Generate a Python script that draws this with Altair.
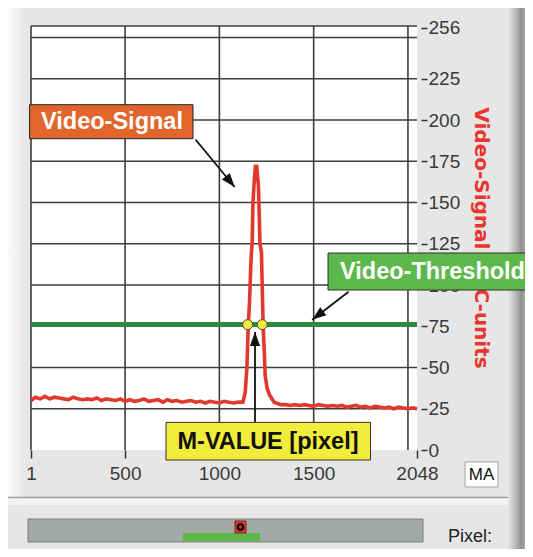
import altair as alt
import pandas as pd

# ---------------- data ----------------
left_x = [1, 25, 50, 75, 100, 125, 150, 175, 200, 225, 250, 275, 300, 325, 350, 375,
          400, 425, 450, 475, 500, 525, 550, 575, 600, 625, 650, 675, 700, 725, 750,
          775, 800, 825, 850, 875, 900, 925, 950, 975, 1000, 1025, 1050, 1075, 1100, 1125]
left_y = [30, 32, 31, 32.5, 31, 32, 31.5, 31, 30.5, 32, 31, 30.5, 31, 30.5, 31.5, 30,
          31, 30.5, 30, 31, 29.5, 30.5, 29.5, 30, 31, 29.5, 30, 30.5, 29, 30.5, 29.5,
          30, 29, 29.5, 30, 29, 29.5, 28.5, 29.5, 29, 28.5, 29.5, 29, 28.5, 29, 29]
peak_x = [1137, 1146, 1153, 1160, 1166, 1170, 1174, 1178, 1186, 1191, 1198, 1207,
          1212, 1215, 1223, 1227, 1232, 1238, 1243, 1254, 1268, 1290, 1325]
peak_y = [35, 50, 75, 90, 110, 120, 125, 150, 165, 172, 172, 160,
          140, 125, 120, 100, 75, 60, 45, 37, 33, 29, 27.5]
right_x = [1350, 1375, 1400, 1425, 1450, 1475, 1500, 1525, 1550, 1575, 1600, 1625,
           1650, 1675, 1700, 1725, 1750, 1775, 1800, 1825, 1850, 1875, 1900, 1925,
           1950, 1975, 2000, 2025, 2048]
right_y = [27.5, 27, 27.5, 27, 27.5, 27, 26.5, 27.5, 27, 26.5, 27, 26.5, 27, 26,
           26.5, 27, 26, 26.5, 25.5, 26.5, 26, 25.5, 26, 25, 26, 25.5, 25, 25.5, 25]

threshold_value = 76
threshold_x = [1, 2048]
crossing_x = [1150, 1227]

grid_x = [1, 500, 1000, 1500, 2000]
grid_y = [25, 50, 75, 100, 125, 150, 175, 200, 225, 250, 257]
x_ticks = [1, 500, 1000, 1500, 2048]
y_ticks = [0, 25, 50, 75, 100, 125, 150, 175, 200, 225, 256]

# ---------------- tables ----------------
sig_df = pd.DataFrame({"pixel": left_x + peak_x + right_x,
                       "adc": left_y + peak_y + right_y})
thr_df = pd.DataFrame({"pixel": threshold_x, "adc": [threshold_value] * len(threshold_x)})
cross_df = pd.DataFrame({"pixel": crossing_x, "adc": [threshold_value] * len(crossing_x)})
gx_df = pd.DataFrame({"pixel": grid_x})
gy_df = pd.DataFrame({"adc": grid_y})
one = pd.DataFrame({"k": [0]})

W, H = 386, 424
FONT = "Liberation Sans"
xs = alt.Scale(domain=[1, 2048], nice=False, zero=False)
ys = alt.Scale(domain=[0, 257], nice=False, zero=False)
x_axis = alt.Axis(
    values=x_ticks, orient="bottom", title=None, grid=False, domain=False,
    tickSize=8, tickColor="#333333", tickWidth=1.5, labelFont=FONT,
    labelFontSize=19, labelColor="#3a3a3a", labelPadding=6, format="d",
    labelFlush=False, labelOverlap=False)
y_axis = alt.Axis(
    values=y_ticks, orient="right", title=None, grid=False, domain=False,
    offset=4, tickSize=6, tickColor="#333333", tickWidth=1.5, labelFont=FONT,
    labelFontSize=19, labelColor="#3a3a3a", labelPadding=1, format="d",
    labelFlush=False, labelOverlap=False)
X = alt.X("pixel:Q", scale=xs, axis=x_axis)
Y = alt.Y("adc:Q", scale=ys, axis=y_axis)


# ---------------- helpers for the instrument-panel decoration ----------------
def rect(x, x2, y, y2, fill, stroke=None, sw=1.0):
    kw = dict(fill=fill, strokeWidth=sw)
    if stroke:
        kw["stroke"] = stroke
    else:
        kw["strokeWidth"] = 0
    return alt.Chart(one).mark_rect(**kw).encode(
        x=alt.value(x), x2=alt.value(x2), y=alt.value(y), y2=alt.value(y2))


def grad_rect(x, x2, y, y2, stops):
    g = alt.LinearGradient(gradient="linear", x1=0, x2=1, y1=0, y2=0,
                           stops=[alt.GradientStop(color=c, offset=o) for o, c in stops])
    return alt.Chart(one).mark_rect(color=g, strokeWidth=0).encode(
        x=alt.value(x), x2=alt.value(x2), y=alt.value(y), y2=alt.value(y2))


def label(text, x, y, size, color, bold=True, align="center", baseline="middle",
          angle=0, font=FONT):
    return alt.Chart(one).mark_text(
        text=text, fontSize=size, color=color, font=font,
        fontWeight="bold" if bold else "normal", align=align, baseline=baseline,
        angle=angle).encode(x=alt.value(x), y=alt.value(y))


def arrow(x1, y1, x2, y2, ang):
    line = alt.Chart(one).mark_rule(color="#111111", strokeWidth=1.8).encode(
        x=alt.value(x1), y=alt.value(y1), x2=alt.value(x2), y2=alt.value(y2))
    head = alt.Chart(one).mark_point(
        shape="M0,0L-0.8,2.2L0.8,2.2Z", size=160, filled=True, color="#111111",
        opacity=1, angle=ang).encode(x=alt.value(x2), y=alt.value(y2))
    return [line, head]


# ---------------- frame ----------------
frame = [
    grad_rect(-23, -4, -18, 472, [(0, "#fbfbfb"), (1, "#e6e6e6")]),
    alt.Chart(one).mark_rule(color="#9c9c9c", strokeWidth=1.5).encode(
        x=alt.value(-23), x2=alt.value(494), y=alt.value(471.5)),
    rect(-23, 494, 472.5, 479, "#f3f3f3"),
    grad_rect(477, 494, -18, 523, [(0, "#e6e6e6"), (0.5, "#b4b4b4"), (0.8, "#8e8e8e"), (1, "#a8a8a8")]),
]

# ---------------- plot ----------------
vgrid = alt.Chart(gx_df).mark_rule(color="#3d3d3d", strokeWidth=1.6).encode(x=X)
hgrid = alt.Chart(gy_df).mark_rule(color="#3d3d3d", strokeWidth=1.6).encode(y=Y)

signal = alt.Chart(sig_df).mark_line(color="#e2392f", strokeWidth=3.6).encode(x=X, y=Y)

threshold = alt.Chart(thr_df).mark_line(color="#2b8a3b", strokeWidth=5).encode(x=X, y=Y)

dots = alt.Chart(cross_df).mark_circle(size=100, color="#f4ea3c", stroke="#444444",
                                       strokeWidth=1, opacity=1).encode(x=X, y=Y)

ytitle = label("Video-Signal ADC-units", 450, 212, 20, "#e8352d", angle=90,
               font="DejaVu Sans")

# ---------------- annotations ----------------
annot = []
annot += arrow(164.5, 113.5, 203.7, 161, 140.5)
annot += arrow(317.6, 265.8, 281.2, 293.7, 232.5)
annot += arrow(224, 396, 224, 306, 0)
annot += [
    rect(-1.4, 162, 78.7, 112.7, "#e2662c", "#222222", 1),
    label("Video-Signal", 81, 96, 23.5, "#ffffff"),
    rect(297, 500, 227, 264, "#5db84a", "#333333", 1),
    label("Video-Threshold", 309, 245.5, 23.5, "#ffffff", align="left"),
    rect(135, 339.5, 396.4, 434, "#f2ec3a", "#333333", 1),
    label("M-VALUE [pixel]", 237, 415.5, 23.5, "#111111"),
    # MA button
    rect(434, 467, 436, 461, "#ffffff", "#a0a0a0", 1),
    label("MA", 450.5, 449, 17, "#111111", bold=False),
]

# ---------------- bottom indicator panel ----------------
bottom = [
    rect(-3, 392, 493, 516, "#a3a8a8", "#7c8080", 1),
    rect(152, 229, 507, 515, "#5bb947"),
    rect(204, 215, 495, 507, "#e23a2f", "#8a1e18", 1),
    alt.Chart(one).mark_point(shape="circle", filled=False, size=28, strokeWidth=2.5,
                              color="#111111", opacity=1).encode(
        x=alt.value(209.5), y=alt.value(501)),
    label("Pixel:", 417, 516, 18, "#222222", bold=False, align="left",
          baseline="alphabetic"),
]

chart = alt.layer(
    vgrid, hgrid, *frame, signal, threshold, dots, ytitle, *annot, *bottom
).properties(
    width=W, height=H,
    autosize=alt.AutoSizeParams(type="none"),
    padding={"left": 23, "top": 18, "right": 108, "bottom": 99},
    background="#e6e6e6",
).configure_view(fill="#ffffff", stroke=None)

chart.save("out.html", embed_options={"renderer": "svg", "actions": False})
